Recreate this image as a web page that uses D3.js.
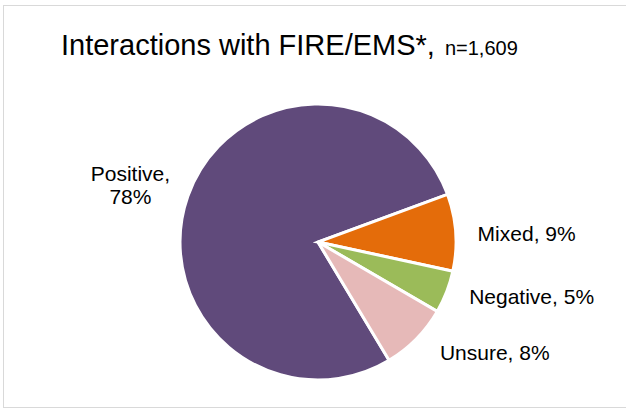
<!DOCTYPE html>
<html>
<head>
<meta charset="utf-8">
<script src="https://cdn.jsdelivr.net/npm/d3@7"></script>
<style>
  html, body { margin: 0; padding: 0; background: #fff; }
  svg { display: block; font-family: "Liberation Sans", Arial, sans-serif; }
</style>
</head>
<body>
<svg id="chart" width="626" height="408"></svg>
<script>
// Survey responses: interactions with FIRE/EMS
const categories = ["Positive", "Mixed", "Negative", "Unsure"];
const percents = [78, 9, 5, 8];
const colors = ["#604A7B", "#E46C0A", "#9BBB59", "#E6B9B8"];
const titleMain = "Interactions with FIRE/EMS*,";
const titleSub = "n=1,609";

const width = 626, height = 408;
const cx = 318, cy = 242, radius = 138;

const svg = d3.select("#chart");

// chart frame
svg.append("rect")
  .attr("x", 3.5).attr("y", 5.5)
  .attr("width", 700).attr("height", 402)
  .attr("fill", "none")
  .attr("stroke", "#D9D9D9")
  .attr("stroke-width", 1);

// title
const title = svg.append("text")
  .attr("x", 61).attr("y", 55)
  .attr("fill", "#000");
title.append("tspan").attr("font-size", 29).text(titleMain);
title.append("tspan").attr("font-size", 20).attr("dx", 10).text(titleSub);

const data = categories.map((c, i) => ({ name: c, value: percents[i], color: colors[i] }));

const startDeg = 149;
const pie = d3.pie()
  .sort(null)
  .value(d => d.value)
  .startAngle(startDeg * Math.PI / 180)
  .endAngle((startDeg + 360) * Math.PI / 180);

const arcs = pie(data);
const arc = d3.arc().innerRadius(0).outerRadius(radius);
const labelArc = d3.arc().innerRadius(160).outerRadius(160);

const g = svg.append("g").attr("transform", `translate(${cx},${cy})`);

g.selectAll("path.slice")
  .data(arcs)
  .join("path")
  .attr("class", "slice")
  .attr("d", arc)
  .attr("fill", d => d.data.color)
  .attr("stroke", "#fff")
  .attr("stroke-width", 3)
  .attr("stroke-linejoin", "miter");

// small per-label nudges for best-fit placement
const nudge = {
  Positive: [3, -4],
  Mixed: [0, 3],
  Negative: [2, -3],
  Unsure: [8, -2]
};

arcs.forEach(d => {
  const [lx, ly] = labelArc.centroid(d);
  const [nx, ny] = nudge[d.data.name];
  const x = lx + nx, y = ly + ny;
  const mid = (d.startAngle + d.endAngle) / 2;
  const leftSide = Math.sin(mid) < 0;
  const label = `${d.data.name}, ${d.data.value}%`;
  if (leftSide) {
    // two-line label, block right edge at anchor point
    const t = g.append("text")
      .attr("font-size", 21)
      .attr("fill", "#000")
      .attr("text-anchor", "middle");
    const l1 = t.append("tspan").text(`${d.data.name},`);
    const l2 = t.append("tspan").text(`${d.data.value}%`);
    const w = Math.max(l1.node().getComputedTextLength(), l2.node().getComputedTextLength());
    const mx = x - w / 2;
    l1.attr("x", mx).attr("y", y - 11.5).attr("dy", "0.35em");
    l2.attr("x", mx).attr("y", y + 11.5).attr("dy", "0.35em");
  } else {
    g.append("text")
      .attr("x", x).attr("y", y)
      .attr("dy", "0.35em")
      .attr("font-size", 21)
      .attr("fill", "#000")
      .attr("text-anchor", "start")
      .text(label);
  }
});
</script>
</body>
</html>
